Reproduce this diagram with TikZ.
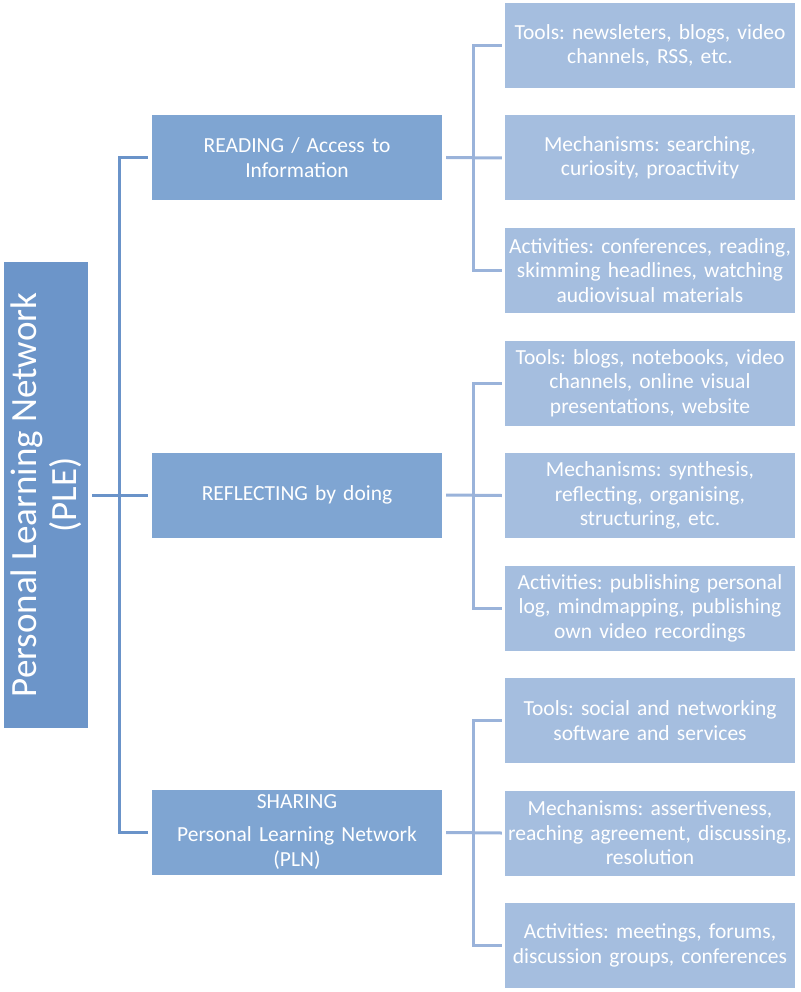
\documentclass[tikz,border=0pt]{standalone}
\usepackage{fontspec}
\setmainfont{Carlito}
\frenchspacing
\definecolor{rootc}{HTML}{6C95C9}
\definecolor{midc}{HTML}{7FA5D2}
\definecolor{leafc}{HTML}{A5BEDF}
\definecolor{lineL}{HTML}{6A93C9}
\definecolor{lineR}{HTML}{9AB3DA}
\tikzset{
  rootbox/.style={rectangle, fill=rootc, minimum width=84pt, minimum height=466pt, inner sep=0pt},
  rootlabel/.style={text=white, align=center, inner sep=0pt, font=\fontsize{37}{40}\selectfont},
  midbox/.style={rectangle, fill=midc, text=white, minimum width=290pt, minimum height=85pt, text width=286pt, align=center, inner sep=0pt, font=\fontsize{21.5}{25}\selectfont},
  leafbox/.style={rectangle, fill=leafc, text=white, minimum width=290pt, minimum height=85pt, text width=290pt, align=center, inner sep=0pt, font=\fontsize{21.5}{24.5}\selectfont},
  connL/.style={draw=lineL, line width=3pt},
  connR/.style={draw=lineR, line width=3pt},
}
\begin{document}
\begin{tikzpicture}[x=1pt,y=-1pt]
\useasboundingbox (0,0) rectangle (800,992);
\node[rootbox] (root) at (46,495) {};
\node[rootlabel, rotate=90] (rootlab) at (root.center) {Personal Learning Network\\(PLE)};
\node[midbox] (m1) at (297,157.5) {READING / Access to\\Information};
\node[midbox] (m2) at (297,495) {REFLECTING by doing};
\node[midbox] (m3) at (297,832.5) {SHARING\\[8pt]Personal Learning Network\\(PLN)};
\node[leafbox] (a1) at (650,45.5) {Tools: newsleters, blogs, video\\channels, RSS, etc.};
\node[leafbox] (a2) at (650,158) {Mechanisms: searching,\\curiosity, proactivity};
\node[leafbox] (a3) at (650,270.5) {Activities: conferences, reading,\\skimming headlines, watching\\audiovisual materials};
\node[leafbox] (b1) at (650,383) {Tools: blogs, notebooks, video\\channels, online visual\\presentations, website};
\node[leafbox] (b2) at (650,495.5) {Mechanisms: synthesis,\\reflecting, organising,\\structuring, etc.};
\node[leafbox] (b3) at (650,608) {Activities: publishing personal\\log, mindmapping, publishing\\own video recordings};
\node[leafbox] (c1) at (650,720.5) {Tools: social and networking\\software and services};
\node[leafbox] (c2) at (650,833) {Mechanisms: assertiveness,\\reaching agreement, discussing,\\resolution};
\node[leafbox] (c3) at (650,945.5) {Activities: meetings, forums,\\discussion groups, conferences};
% left connectors
\draw[connL] ([xshift=4pt]root.east) -- ([xshift=-4pt]m2.west);
\draw[connL] ([xshift=-4pt]m1.west) -- ++(-28,0) |- ([xshift=-4pt]m3.west);
% right connectors
\foreach \m/\x/\y/\z in {m1/a1/a2/a3, m2/b1/b2/b3, m3/c1/c2/c3}{
  \draw[connR] ([xshift=4pt]\m.east) -- ([xshift=-3pt]\y.west);
  \draw[connR] ([xshift=-3pt]\x.west) -- ++(-28,0) |- ([xshift=-3pt]\z.west);
}
\end{tikzpicture}
\end{document}
